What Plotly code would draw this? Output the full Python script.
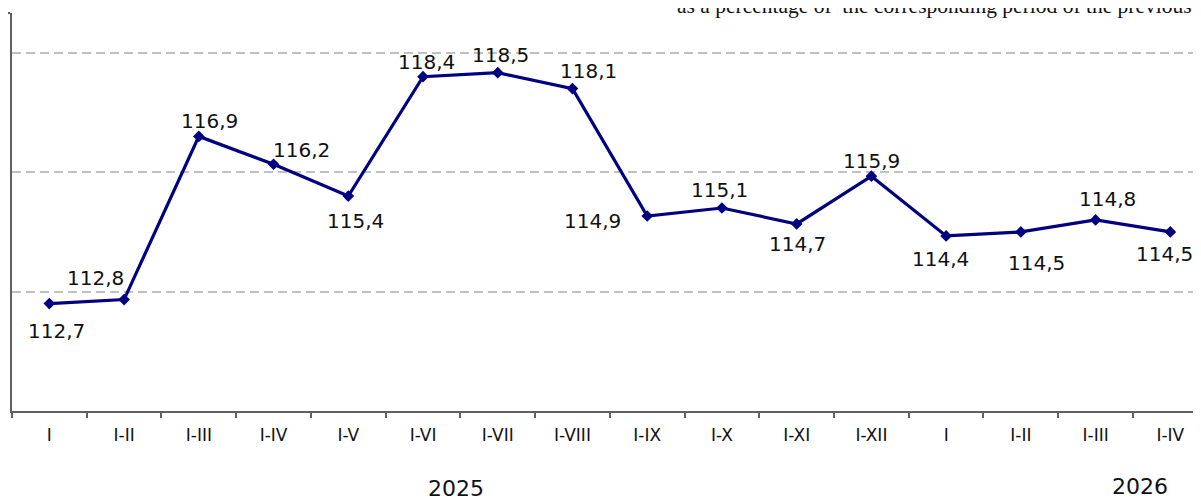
import plotly.graph_objects as go

# ---- data ----
period_labels = ["I", "I-II", "I-III", "I-IV", "I-V", "I-VI", "I-VII", "I-VIII",
                 "I-IX", "I-X", "I-XI", "I-XII", "I", "I-II", "I-III", "I-IV"]
values = [112.7, 112.8, 116.9, 116.2, 115.4, 118.4, 118.5, 118.1,
          114.9, 115.1, 114.7, 115.9, 114.4, 114.5, 114.8, 114.5]
years = ["2025", "2026"]
subtitle = "as a percentage of\u00a0 the corresponding period of the previous year"

# ---- label placement (styles) ----
label_dx = [7, -29, 11, 28, 7, 3, 3, 16, -55, -2, 1, 0, -6, 16, 12, -6]
label_dy = [26, -23, -16, -15, 24, -16, -19, -19, 4, -19, 19, -16, 22, 30, -22, 21]
year_x = [5.44, 14.59]
year_y = [-0.195, -0.189]

x = list(range(len(values)))
navy = "#000080"
sans = "DejaVu Sans, Liberation Sans, Arial, sans-serif"

fig = go.Figure()
fig.add_trace(go.Scatter(
    x=x, y=values, mode="lines+markers",
    line=dict(color=navy, width=3.2),
    marker=dict(symbol="diamond", size=9, color=navy),
    hoverinfo="skip", showlegend=False,
))

annotations = []
for xi, v, dx, dy in zip(x, values, label_dx, label_dy):
    annotations.append(dict(
        x=xi, y=v, xref="x", yref="y", text=f"{v:.1f}".replace(".", ","),
        showarrow=False, xanchor="center", yanchor="middle",
        xshift=dx, yshift=-dy - 1,
        font=dict(family=sans, size=20, color="#111111"),
    ))
for yr, yx, yy in zip(years, year_x, year_y):
    annotations.append(dict(
        x=yx, y=yy, xref="x", yref="paper", text=yr, showarrow=False,
        xanchor="center", yanchor="middle",
        font=dict(family=sans, size=22, color="#111111"),
    ))
annotations.append(dict(
    x=(675 - 12) / 1189, y=1 - 6.5 / 398, xref="paper", yref="paper", text=subtitle,
    showarrow=False, xanchor="left", yanchor="bottom",
    font=dict(family="Liberation Serif, Times New Roman, serif", size=21.5, color="#111111"),
))

axis_color = "#606060"
fig.update_layout(
    width=1193, height=490,
    margin=dict(l=4, r=0, t=5, b=87),
    paper_bgcolor="white", plot_bgcolor="white",
    annotations=annotations,
    xaxis=dict(
        range=[-0.5, -0.5 + 1189 / 74.73],
        tickmode="array", tickvals=x, ticktext=period_labels,
        ticks="outside", ticklen=8, tickcolor="rgba(0,0,0,0)",
        tickfont=dict(family=sans, size=17, color="#111111"),
        showgrid=False, zeroline=False,
        showline=True, linecolor=axis_color, linewidth=1.5,
        minor=dict(tickmode="array", tickvals=[i - 0.5 for i in range(len(values) + 1)],
                   ticks="outside", ticklen=5, tickcolor=axis_color, tickwidth=1.5,
                   showgrid=False),
    ),
    yaxis=dict(
        range=[110, 120],
        tickmode="array", tickvals=[113, 116, 119],
        showticklabels=False, ticks="",
        showgrid=True, gridcolor="#c0c0c0", gridwidth=2, griddash="9px,5px",
        zeroline=False,
        showline=True, linecolor=axis_color, linewidth=1.5,
        minor=dict(tickmode="array", tickvals=[120], ticks="outside", ticklen=5,
                   tickcolor=axis_color, tickwidth=1.5, showgrid=False),
    ),
)

fig.write_html("out.html")
